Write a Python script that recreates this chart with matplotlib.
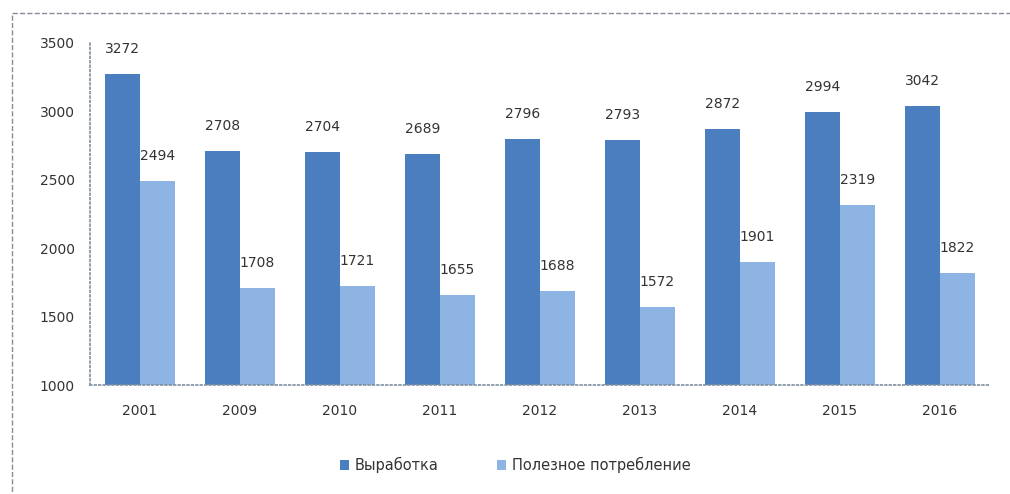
import numpy as np
import matplotlib.pyplot as plt
from matplotlib.patches import Rectangle

years = ['2001', '2009', '2010', '2011', '2012', '2013', '2014', '2015', '2016']
vyrabotka = [3272, 2708, 2704, 2689, 2796, 2793, 2872, 2994, 3042]
poleznoe = [2494, 1708, 1721, 1655, 1688, 1572, 1901, 2319, 1822]

dark = '#4a7ebf'
light = '#8db4e3'
txt = '#333333'

fig = plt.figure(figsize=(10.1, 4.94), dpi=100)
ax = fig.add_axes([0.089, 0.2206, 0.891, 0.6924])

x = np.arange(len(years))
w = 0.35
b1 = ax.bar(x - w / 2, vyrabotka, w, bottom=0, color=dark, label='Выработка')
b2 = ax.bar(x + w / 2, poleznoe, w, bottom=0, color=light, label='Полезное потребление')

for bars, vals in ((b1, vyrabotka), (b2, poleznoe)):
    for r, v in zip(bars, vals):
        ax.annotate(str(v), (r.get_x() + r.get_width() / 2, v), xytext=(0, 18),
                    textcoords='offset points', ha='center', va='center',
                    fontsize=10, color=txt)

ax.set_ylim(1000, 3500)
ax.set_xlim(-0.5, len(years) - 0.5)
ax.set_yticks([1000, 1500, 2000, 2500, 3000, 3500])
ax.set_xticks(x)
ax.set_xticklabels(years)
ax.tick_params(length=0, labelsize=10, colors=txt)
ax.tick_params(axis='y', pad=11)
ax.tick_params(axis='x', pad=14)

for s in ('top', 'right'):
    ax.spines[s].set_visible(False)
for s in ('left', 'bottom'):
    ax.spines[s].set_linestyle(':')
    ax.spines[s].set_color('#7f8f9f')
    ax.spines[s].set_linewidth(1.2)

ax.legend(loc='center', bbox_to_anchor=(0.473, -0.234), ncol=2, frameon=False,
          fontsize=10.5, handlelength=0.6, handleheight=0.6, handletextpad=0.4,
          columnspacing=4.0, labelcolor=txt)

# dashed outer frame
fig.patches.append(Rectangle((12 / 1010, -0.01), 1.0, 1 - 13 / 494 + 0.01, transform=fig.transFigure,
                             fill=False, edgecolor='#8a8a9a', linestyle='--', linewidth=1))

fig.savefig('out.png', dpi=100)
